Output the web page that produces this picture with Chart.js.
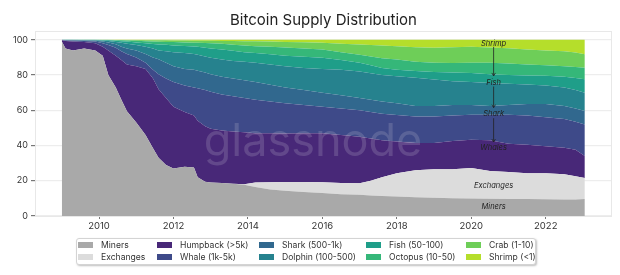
<!DOCTYPE html>
<html>
<head>
<meta charset="utf-8">
<script src="https://cdn.jsdelivr.net/npm/chart.js@4/dist/chart.umd.min.js"></script>
<style>
  html, body { margin: 0; padding: 0; background: #fff; }
  #wrap { position: relative; width: 620px; height: 275px; font-family: Inter, "Noto Sans", sans-serif; }
  #legend {
    position: absolute; left: 76px; top: 238px; width: 460px; height: 27px;
    box-sizing: border-box; border: 1px solid #d4d4d4; border-radius: 3px;
    box-shadow: 1px 1px 2px rgba(0,0,0,0.25); background: #fff;
    display: grid; grid-template-columns: 79px 102px 107px 100px 68px;
    grid-auto-flow: column; grid-template-rows: 12px 12px;
    padding: 0 0 0 1px; font-size: 8.6px; color: #333;
  }
  #legend .item { display: flex; align-items: center; white-space: nowrap; }
  #legend .sw { width: 15px; height: 6px; margin-right: 8px; flex: none; }
</style>
</head>
<body>
<div id="wrap">
  <canvas id="chart" width="620" height="275"></canvas>
  <div id="legend"></div>
</div>
<script>
// time axis (decimal years)
const years = [2009.0, 2009.1, 2009.3, 2009.6, 2009.9, 2010.1, 2010.25, 2010.45, 2010.6, 2010.75,
  2011.0, 2011.25, 2011.45, 2011.6, 2011.8, 2012.0, 2012.3, 2012.55, 2012.65, 2012.85,
  2013.0, 2013.3, 2013.6, 2013.9, 2014.2, 2014.6, 2015.0, 2015.5, 2016.0, 2016.5,
  2017.0, 2017.3, 2017.6, 2018.0, 2018.5, 2019.0, 2019.5, 2020.0, 2020.5, 2021.0,
  2021.5, 2022.0, 2022.5, 2022.8, 2023.05];

// share of supply (%) per holder group
const miners = [99, 95, 94, 95, 94, 91, 80, 73, 66, 59.5,
  53, 46, 38.5, 33, 29, 27, 28, 27.5, 22, 19.5,
  19, 18.7, 18.3, 17.7, 16.5, 15, 14.3, 13.6, 13, 12.4,
  12, 11.7, 11.4, 11, 10.6, 10.3, 10.1, 9.9, 9.8, 9.7,
  9.6, 9.5, 9.4, 9.4, 9.6];
const exchanges = [0, 0, 0, 0, 0, 0, 0, 0, 0, 0,
  0, 0, 0, 0, 0, 0, 0, 0, 0, 0,
  0, 0, 0, 0.3, 2.5, 4.2, 5, 5.7, 6.2, 6.4,
  6.6, 8.3, 10.6, 13.3, 15.4, 16.2, 16.5, 17.3, 15.7, 15.3,
  14.7, 14.7, 14.3, 13.1, 12];
const humpback = [0.7, 4.3, 5, 3.8, 4, 5, 14, 18, 22.5, 26.5,
  32, 37.5, 39.5, 39, 38, 35, 31, 29.5, 32, 31.5,
  30.5, 29.8, 29.7, 29.5, 28, 27.8, 27.5, 27.7, 27.8, 27.2,
  26.4, 24, 21, 18, 15.5, 15, 15.9, 16.1, 17.5, 16,
  16.1, 15.4, 15.1, 15.1, 12.4];
const whale = [0.1, 0.3, 0.4, 0.5, 1, 2, 3, 4.5, 5, 6,
  5, 3.5, 5, 8.5, 11, 14, 15, 16, 18.5, 20.5,
  21, 20.5, 20, 19.5, 19, 18, 17.2, 16, 15, 15,
  15, 15, 15, 15, 15, 15, 14.5, 14.2, 14.5, 16.5,
  16.6, 16.4, 16.2, 15.9, 18];
const shark = [0.1, 0.2, 0.3, 0.3, 0.5, 1, 1.5, 2, 2.5, 3,
  4, 5, 7, 8.5, 9, 9, 9.5, 10, 10, 10,
  10, 10, 10, 10, 10, 9.5, 9, 8.5, 8, 7.5,
  7, 7, 7, 6.7, 6, 6, 6, 5.5, 5, 5.5,
  6.5, 7.5, 7.5, 7.5, 7.6];
const dolphin = [0.1, 0.1, 0.2, 0.2, 0.3, 0.5, 0.8, 1.3, 2.3, 2.8,
  3, 4, 5, 5, 6.5, 8, 9, 9, 9, 9,
  9.3, 9.8, 10, 10.5, 11, 11.5, 12, 12.5, 13.5, 14.5,
  15, 15, 15, 15.3, 16, 15, 13.5, 13, 13, 12,
  11.1, 10.5, 10.5, 10.5, 10.4];
const fish = [0, 0.1, 0.1, 0.1, 0.1, 0.3, 0.4, 0.7, 0.9, 1.2,
  1.5, 2, 2.6, 3.4, 3.7, 3.8, 4, 4.2, 4.5, 5,
  5.2, 5.7, 5.8, 5.5, 5.5, 5.8, 6, 6.4, 6.3, 5.5,
  5, 4.5, 4, 3.7, 3.8, 4.3, 4.9, 5.1, 5, 5,
  5.2, 5.6, 6, 6.8, 7.6];
const octopus = [0, 0, 0, 0.1, 0.1, 0.1, 0.2, 0.3, 0.5, 0.6,
  0.9, 1.2, 1.4, 1.5, 1.6, 1.9, 2, 2.2, 2.3, 2.7,
  3, 3.3, 3.4, 3.8, 3.9, 4.2, 4.6, 4.6, 4.7, 4.5,
  4.5, 5, 5.5, 5.8, 5.2, 5.2, 5.4, 5.9, 6.5, 6.5,
  6.2, 6, 6, 6.2, 6.6];
const crab = [0, 0, 0, 0, 0, 0.1, 0.1, 0.15, 0.25, 0.3,
  0.45, 0.6, 0.8, 0.8, 0.9, 0.9, 1.1, 1.1, 1.2, 1.3,
  1.4, 1.5, 2.1, 2.4, 2.8, 3, 3.2, 3.6, 3.8, 4.8,
  5.8, 6.5, 7.2, 7.5, 8.3, 8.5, 9, 9, 8.6, 8.7,
  8.5, 8.4, 8.5, 8.3, 7.6];
const shrimp = [0, 0, 0, 0, 0, 0, 0, 0.05, 0.05, 0.1,
  0.15, 0.2, 0.2, 0.3, 0.3, 0.4, 0.4, 0.5, 0.5, 0.5,
  0.6, 0.7, 0.7, 0.8, 0.8, 1, 1.2, 1.4, 1.7, 2.2,
  2.7, 3, 3.3, 3.7, 4.2, 4.5, 4.2, 4, 4.4, 4.8,
  5.5, 6, 6.5, 7.2, 8.2];

const seriesNames = ['Miners', 'Exchanges', 'Humpback (>5k)', 'Whale (1k-5k)', 'Shark (500-1k)',
  'Dolphin (100-500)', 'Fish (50-100)', 'Octopus (10-50)', 'Crab (1-10)', 'Shrimp (<1)'];
const seriesColors = ['#a9a9a9', '#dcdcdc', '#482878', '#3e4a89', '#31688e',
  '#26828e', '#1f9e89', '#35b779', '#6ece58', '#b5de2b'];
const seriesValues = [miners, exchanges, humpback, whale, shark, dolphin, fish, octopus, crab, shrimp];

const xTicks = [2010, 2012, 2014, 2016, 2018, 2020, 2022];
const yTicks = [0, 20, 40, 60, 80, 100];

// text labels on the right, with arrows between the top four
const noteX = 2020.6;
const notes = [['Shrimp', 98], ['Fish', 75.7], ['Shark', 58], ['Whales', 38.6], ['Exchanges', 17], ['Miners', 5]];
const arrows = [[96, 79.5], [73.5, 61.5], [55.5, 42]];

const datasets = seriesValues.map((vals, i) => ({
  label: seriesNames[i],
  data: years.map((x, j) => ({ x: x, y: vals[j] })),
  backgroundColor: seriesColors[i],
  borderWidth: 0,
  pointRadius: 0,
  fill: i === 0 ? 'origin' : '-1'
}));

const frame = {
  id: 'frame',
  beforeDatasetsDraw(chart) {
    const a = chart.chartArea, ctx = chart.ctx;
    ctx.save();
    ctx.strokeStyle = '#e8e8e8';
    ctx.lineWidth = 1;
    ctx.strokeRect(a.left + 0.5, a.top + 0.5, a.right - a.left - 1, a.bottom - a.top);
    ctx.restore();
  },
  afterDatasetsDraw(chart) {
    const ctx = chart.ctx, xs = chart.scales.x, ys = chart.scales.y;
    ctx.save();
    // watermark
    ctx.fillStyle = 'rgba(205,200,215,0.2)';
    ctx.font = '45px Inter, sans-serif';
    ctx.textAlign = 'center';
    ctx.textBaseline = 'alphabetic';
    ctx.fillText('glassnode', 313, 156);
    // notes
    const px = xs.getPixelForValue(noteX);
    ctx.fillStyle = '#222';
    ctx.font = 'italic 7.5px Inter, sans-serif';
    ctx.textBaseline = 'middle';
    notes.forEach(n => ctx.fillText(n[0], px, ys.getPixelForValue(n[1])));
    ctx.strokeStyle = '#222';
    ctx.lineWidth = 0.8;
    arrows.forEach(a => {
      const y0 = ys.getPixelForValue(a[0]), y1 = ys.getPixelForValue(a[1]);
      ctx.beginPath();
      ctx.moveTo(px, y0);
      ctx.lineTo(px, y1);
      ctx.stroke();
      ctx.beginPath();
      ctx.moveTo(px - 1.8, y1 - 3);
      ctx.lineTo(px, y1);
      ctx.lineTo(px + 1.8, y1 - 3);
      ctx.stroke();
    });
    ctx.restore();
  }
};

new Chart(document.getElementById('chart'), {
  type: 'line',
  data: { datasets: datasets },
  options: {
    responsive: false,
    animation: false,
    layout: { padding: { left: 0, right: 8, top: 0, bottom: 39 } },
    plugins: {
      legend: { display: false },
      tooltip: { enabled: false },
      title: {
        display: true,
        fullSize: false,
        text: 'Bitcoin Supply Distribution',
        color: '#222',
        font: { family: 'Inter', size: 15, weight: 'normal' },
        padding: { top: 11, bottom: 2 }
      }
    },
    scales: {
      x: {
        type: 'linear',
        min: 2008.28,
        max: 2023.78,
        afterBuildTicks: s => { s.ticks = xTicks.map(v => ({ value: v })); },
        afterFit: s => { s.height = 20; },
        grid: { drawOnChartArea: false, drawTicks: true, tickLength: 3, tickColor: '#777' },
        border: { display: false },
        ticks: { color: '#333', padding: 1, maxRotation: 0, font: { family: 'Inter', size: 9.5 }, callback: v => String(v) }
      },
      y: {
        stacked: true,
        min: 0,
        max: 105,
        z: 1,
        afterBuildTicks: s => { s.ticks = yTicks.map(v => ({ value: v })); },
        afterFit: s => { s.width = 35; },
        grid: { color: 'rgba(232,232,232,0.8)', lineWidth: 1.2, tickLength: 4, tickColor: '#777' },
        border: { display: false },
        ticks: { color: '#333', padding: 3, font: { family: 'Inter', size: 9 } }
      }
    }
  },
  plugins: [frame]
});

// legend, column by column
const legend = document.getElementById('legend');
seriesNames.forEach((name, i) => {
  const item = document.createElement('div');
  item.className = 'item';
  item.innerHTML = '<span class="sw" style="background:' + seriesColors[i] + '"></span><span>' + name + '</span>';
  legend.appendChild(item);
});
</script>
</body>
</html>
